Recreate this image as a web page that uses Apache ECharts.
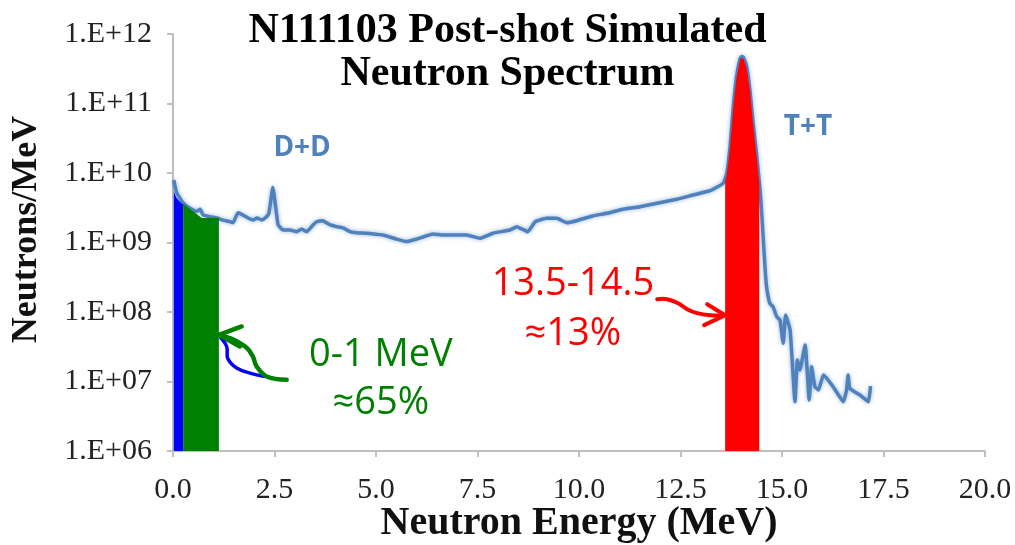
<!DOCTYPE html>
<html><head><meta charset="utf-8">
<script src="https://cdn.jsdelivr.net/npm/echarts@6/dist/echarts.min.js"></script>
<style>html,body{margin:0;padding:0;background:#fff}#c{width:1015px;height:545px}</style>
</head><body><div id="c"></div>
<script>
const titleLines = ['N111103 Post-shot Simulated', 'Neutron Spectrum'];
const xAxisTitle = 'Neutron Energy (MeV)';
const yAxisTitle = 'Neutrons/MeV';
const xTickLabels = ['0.0','2.5','5.0','7.5','10.0','12.5','15.0','17.5','20.0'];
const yTickLabels = ['1.E+06','1.E+07','1.E+08','1.E+09','1.E+10','1.E+11','1.E+12'];

// Simulated spectrum (MeV, neutrons/MeV)
const energy = [0.02,0.09,0.25,0.42,0.58,0.67,0.74,0.91,1.08,1.23,1.40,1.48,1.60,1.72,1.85,1.97,2.07,2.19,2.27,2.36,2.46,2.55,2.59,2.71,2.88,3.05,3.17,3.29,3.45,3.54,3.69,3.87,4.03,4.19,4.36,4.52,4.77,5.17,5.34,5.51,5.76,6.00,6.16,6.40,6.65,6.99,7.23,7.56,7.88,8.30,8.47,8.74,8.92,9.20,9.45,9.70,9.94,10.34,10.68,11.08,11.50,11.92,12.41,12.81,13.23,13.55,13.64,13.72,13.80,13.88,13.97,14.01,14.05,14.13,14.21,14.29,14.38,14.46,14.50,14.54,14.58,14.62,14.70,14.78,14.87,14.95,15.03,15.09,15.20,15.32,15.38,15.44,15.57,15.67,15.73,15.81,15.90,16.02,16.26,16.51,16.59,16.63,16.67,16.92,17.13,17.18];
const flux = [7.9e9,5.2e9,3.7e9,3.1e9,2.8e9,3.0e9,2.5e9,2.35e9,2.25e9,2.1e9,2.0e9,1.93e9,2.68e9,2.49e9,2.25e9,2.11e9,2.25e9,2.11e9,2.25e9,2.6e9,6.2e9,2.6e9,1.79e9,1.51e9,1.51e9,1.43e9,1.56e9,1.43e9,1.79e9,1.99e9,2.06e9,1.79e9,1.69e9,1.62e9,1.43e9,1.38e9,1.36e9,1.28e9,1.2e9,1.12e9,1.03e9,1.12e9,1.2e9,1.33e9,1.28e9,1.28e9,1.28e9,1.15e9,1.36e9,1.51e9,1.69e9,1.43e9,1.99e9,2.23e9,2.23e9,1.93e9,2.06e9,2.41e9,2.63e9,3.0e9,3.27e9,3.66e9,4.19e9,4.82e9,5.56e9,7.1e9,9.9e9,2.39e10,9.0e10,2.43e11,4.47e11,4.75e11,4.62e11,3.39e11,1.56e11,5.19e10,1.72e10,5.69e9,2.63e9,1.09e9,4.49e8,2.31e8,1.33e8,1.19e8,8.56e7,7.67e7,3.55e7,9.06e7,5.51e7,5.12e6,2.04e7,1.46e7,3.35e7,5.42e6,1.63e7,8.42e6,7.55e6,1.24e7,8.42e6,5.12e6,7.55e6,1.24e7,7.98e6,6.39e6,5.12e6,8.61e6];

// Highlighted bands
const blueEnergy = [0.02, 0.1, 0.25];
const blueFlux = [5.4e9, 4.3e9, 3.5e9];
const greenEnergy = [0.25, 0.71, 1.13];
const greenFlux = [3.6e9, 2.25e9, 2.25e9];
const redEnergy = [13.6,13.64,13.72,13.80,13.88,13.97,14.01,14.05,14.13,14.21,14.29,14.38,14.44];
const redFlux = [7.5e9,9.5e9,2.3e10,8.6e10,2.3e11,4.3e11,4.5e11,4.4e11,3.2e11,1.5e11,5.0e10,1.65e10,7.5e9];

const pairs = (xs, ys) => xs.map((x, i) => [x, ys[i]]);
const serif = '"Liberation Serif", "Times New Roman", serif';
const sans = '"Open Sans", "Noto Sans", sans-serif';

const chart = echarts.init(document.getElementById('c'), null, {renderer: 'canvas'});
const option = {
  backgroundColor: '#ffffff',
  animation: false,
  title: {
    text: titleLines.join('\n'),
    left: 'center', top: 5,
    textStyle: {fontFamily: serif, fontWeight: 'bold', fontSize: 42, lineHeight: 43, color: '#000'}
  },
  grid: {left: 173, right: 30, top: 34, bottom: 94, containLabel: false, outerBoundsMode: 'none'},
  xAxis: {
    type: 'value', min: 0, max: 20, interval: 2.5,
    name: xAxisTitle, nameLocation: 'middle', nameGap: 53, nameMoveOverlap: false,
    nameTextStyle: {fontFamily: serif, fontWeight: 'bold', fontSize: 40, color: '#111'},
    axisLine: {show: true, lineStyle: {color: '#bfbfbf', width: 2}},
    axisTick: {show: true, length: 6, lineStyle: {color: '#bfbfbf', width: 2}},
    axisLabel: {margin: 24, fontFamily: serif, fontSize: 30, color: '#222',
      formatter: v => xTickLabels[Math.round(v / 2.5)]},
    splitLine: {show: false}
  },
  yAxis: {
    type: 'log', logBase: 10, min: 1e6, max: 1e12,
    name: yAxisTitle, nameLocation: 'middle', nameGap: 128, nameRotate: 90, nameMoveOverlap: false,
    nameTextStyle: {fontFamily: serif, fontWeight: 'bold', fontSize: 36, color: '#111', padding: [0, 0, 0, 26]},
    axisLine: {show: true, lineStyle: {color: '#bfbfbf', width: 2}},
    axisTick: {show: true, length: 6, lineStyle: {color: '#bfbfbf', width: 2}},
    axisLabel: {margin: 21, fontFamily: serif, fontSize: 30, color: '#222',
      formatter: v => yTickLabels[Math.round(Math.log10(v)) - 6]},
    splitLine: {show: false}
  },
  series: [
    {name: 'Spectrum', type: 'line', data: pairs(energy, flux), showSymbol: false, smooth: 0.12,
      lineStyle: {color: '#4f81bd', width: 3.5, shadowColor: 'rgba(79,129,189,0.6)', shadowBlur: 4}, z: 2},
    {name: 'Below 0.25 MeV', type: 'line', data: pairs(blueEnergy, blueFlux), showSymbol: false, smooth: 0.3,
      lineStyle: {width: 0}, areaStyle: {color: '#0000ff', opacity: 1, origin: 'start'}, z: 3},
    {name: '0-1 MeV', type: 'line', data: pairs(greenEnergy, greenFlux), showSymbol: false,
      lineStyle: {width: 0}, areaStyle: {color: '#008000', opacity: 1, origin: 'start'}, z: 3},
    {name: '13.5-14.5 MeV', type: 'line', data: pairs(redEnergy, redFlux), showSymbol: false, smooth: 0.15,
      lineStyle: {width: 0}, areaStyle: {color: '#ff0000', opacity: 1, origin: 'start'}, z: 3}
  ]
};
chart.setOption(option);

const px = (e, v) => chart.convertToPixel({gridIndex: 0}, [e, v]);
const L = (e, lg) => px(e, Math.pow(10, lg));
const off = (base, pts) => pts.map(p => [base[0] + p[0], base[1] + p[1]]);
const txt = (pos, text, color, font) => ({type: 'text', x: pos[0], y: pos[1], z: 10,
  style: {text, fill: color, font, align: 'center', verticalAlign: 'middle'}});

const gTip = px(1.13, 4.7e7);
const rTip = px(13.6, 9.0e7);
chart.setOption({graphic: [
  txt(L(3.18, 10.36), 'D+D', '#4f81bd', 'bold 28px ' + sans),
  txt(L(15.64, 10.66), 'T+T', '#4f81bd', 'bold 28px ' + sans),
  txt(L(9.85, 8.403), '13.5-14.5', '#ff0000', '38px ' + sans),
  txt(L(9.85, 7.683), '≈13%', '#ff0000', '38px ' + sans),
  txt(L(5.12, 7.381), '0-1 MeV', '#008000', '38px ' + sans),
  txt(L(5.12, 6.691), '≈65%', '#008000', '38px ' + sans),
  {type: 'polyline', z: 9, shape: {points: off(gTip, [[1,2],[7.8,11.7],[9,24],[17.8,33.3],[31,38.3],[46,41.7]]), smooth: 0.4},
    style: {stroke: '#0000ff', lineWidth: 3.5, fill: null}},
  {type: 'polyline', z: 9, shape: {points: off(gTip, [[2,1],[12.8,4],[27.8,13],[34,21.7],[37.8,31.7],[47.8,41.7],[67.8,45]]), smooth: 0.4},
    style: {stroke: '#008000', lineWidth: 4.5, fill: null, lineCap: 'round'}},
  {type: 'polyline', z: 9, shape: {points: off(gTip, [[22.8,-8.3],[0,0],[21,11.7]])},
    style: {stroke: '#008000', lineWidth: 4.5, fill: null, lineCap: 'round', lineJoin: 'round'}},
  {type: 'polyline', z: 9, shape: {points: off(rTip, [[-68,-16],[-58,-16],[-47,-12],[-38,-6],[-28,-2],[-15,0],[-2,0]]), smooth: 0.4},
    style: {stroke: '#ff0000', lineWidth: 4, fill: null, lineCap: 'round'}},
  {type: 'polyline', z: 9, shape: {points: off(rTip, [[-18,-11],[0,0],[-21,10]])},
    style: {stroke: '#ff0000', lineWidth: 4, fill: null, lineCap: 'round', lineJoin: 'round'}}
]});
</script>
</body></html>
